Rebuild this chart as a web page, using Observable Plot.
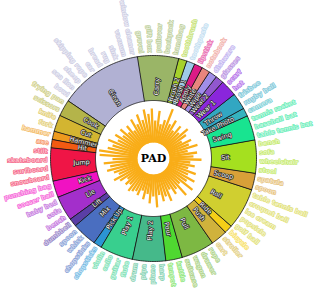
<!DOCTYPE html>
<html><head><meta charset="utf-8">
<script src="https://cdn.jsdelivr.net/npm/d3@7"></script>
<script src="https://cdn.jsdelivr.net/npm/@observablehq/plot@0.6"></script>
<style>body{margin:0;background:#fff}</style>
</head><body><div id="chart"></div>
<script>
// clockwise from the top
const verbs = ["Carry","Brush 2","Brush 1","Apply","Write","Wipe","Wear 2","Wear 1","Throw","Take Photo","Swing","Sit","Scoop","Roll","Ride","Push","Pull","Pour","Play 2","Play 1","Pick Up","Mix","Lift","Lie","Kick","Jump","Hit","Hammer","Cut","Cook","Clean"];
const verbCounts = [5,1,1,1,1,1,1,2,2,1,3,4,2,5,1,2,4,2,4,4,1,3,1,3,2,4,1,1,2,2,10];
const verbColors = ["#9ab567","#a6d12b","#9fcbe8","#dc1a86","#e8857d","#a08ee8","#9157cf","#8a26dc","#32a7c2","#35b3bf","#18e490","#a5e01f","#d8a038","#d0cf30","#f4cf17","#d0b23c","#7db843","#4fd831","#45b98a","#38cf8e","#2b95d4","#4a6ec0","#5a3ea6","#a32fcb","#f012c2","#ef1546","#f25a12","#ee9a1e","#d3b531","#b4b44a","#b1b1d3"];
const objects = ["gravel","gift box","pullover","backpack","handbag","toothbrush","toothpaste","lipstick","notebook","dishware","glasses","scarf","hat","frisbee","rugby ball","camera","tennis racket","baseball bat","table tennis bat","bench","sofa","wheelchair","stool","spatula","spoon","table tennis ball","croquet ball","ice cream","popsicle","golf ball","bicycle","stroller","cart","rope","drawer","wagon","suitcase","kettle","teapot","harp","piano","pipa","drum","flute","guitar","cello","violin","chopsticks","chopsticks","whisk","spoon","dumbbell","bench","sofa","baby bed","soccer ball","punching bag","snowboard","surfboard","skateboard","stilt","axe","hammer","fork","knife","scissors","frying pan","bowl","sea lion","sheep","skipping rope","car","bread","rug","sink","vacuum","window cleaner"];
const barValues = [29,34,22,32,19,24,37,22,28,18,26,20,29,24,17,26,22,30,19,28,24,32,21,26,20,29,22,31,24,34,20,33,22,26,19,30,24,28,21,33,22,29,20,26,18,24,21,23,25,19,22,17,24,29,22,26,32,28,34,25,38,39,31,27,33,24,29,22,28,20,26,18,29,22,31,24,34];

const startAngle = 351;
const total = d3.sum(verbCounts);
const step = 360 / total;
const rIn = 58, rOut = 103, rLabel = 106, rBar0 = 16, rVerb = 72;
const rad = a => a * Math.PI / 180;
const px = (r, a) => r * Math.sin(rad(a));
const py = (r, a) => -r * Math.cos(rad(a));
const norm = a => ((a % 360) + 360) % 360;
const barR = d3.scaleLinear([0, 40], [rBar0, rBar0 + 40]);

let k = 0;
const segs = verbs.map((v, i) => {
  const a0 = startAngle + k * step; k += verbCounts[i];
  const a1 = startAngle + k * step;
  return {verb: v, color: verbColors[i], a0, a1, mid: (a0 + a1) / 2};
});
const objSeg = segs.flatMap((s, i) => d3.range(verbCounts[i]).map(() => s));
const objs = objects.map((name, i) => ({name, value: barValues[i], seg: objSeg[i], a: startAngle + (i + 0.5) * step}));

const poly = segs.flatMap(s => {
  const n = Math.max(2, Math.ceil(s.a1 - s.a0));
  const angs = d3.range(n + 1).map(j => s.a0 + (s.a1 - s.a0) * j / n);
  const outer = angs.map(a => ({verb: s.verb, color: s.color, x: px(rOut, a), y: py(rOut, a)}));
  const inner = angs.slice().reverse().map(a => ({verb: s.verb, color: s.color, x: px(rIn, a), y: py(rIn, a)}));
  return outer.concat(inner);
});

const light = (c, t) => d3.interpolateRgb(c, "#ffffff")(t);
const right = objs.filter(d => norm(d.a) < 180);
const left = objs.filter(d => norm(d.a) >= 180);

const chart = Plot.plot({
  width: 315, height: 300, margin: 0,
  x: {domain: [-153, 162], range: [0, 315], axis: null},
  y: {domain: [-158, 142], range: [0, 300], axis: null},
  color: {type: "identity"},
  marks: [
    Plot.link(objs, {
      x1: d => px(rBar0, d.a), y1: d => py(rBar0, d.a),
      x2: d => px(barR(d.value), d.a), y2: d => py(barR(d.value), d.a),
      stroke: "#f9ad18", strokeWidth: 2.3
    }),
    Plot.dot([0], {x: () => 0, y: () => 0, r: 15, fill: "white", stroke: "none"}),
    Plot.text([0], {x: () => 0, y: () => 0, text: () => "PAD", fontFamily: "DejaVu Serif", fontWeight: "bold", fontSize: 11, fill: "black"}),
    Plot.line(poly, {x: "x", y: "y", z: "verb", fill: "color", stroke: "#111", strokeWidth: 0.8, curve: "linear-closed"}),
    Plot.text(segs, {
      x: d => px(rVerb, d.mid), y: d => py(rVerb, d.mid), text: "verb",
      rotate: d => norm(d.mid) < 180 ? norm(d.mid) - 90 : norm(d.mid) + 90,
      fontSize: 6.5, fontFamily: "DejaVu Sans", fill: "white", stroke: "#222", strokeWidth: 1.4
    }),
    Plot.text(right, {
      x: d => px(rLabel, d.a), y: d => py(rLabel, d.a), text: "name",
      rotate: d => norm(d.a) - 90, textAnchor: "start",
      fontSize: 6.3, fontFamily: "DejaVu Sans", fontWeight: "bold",
      fill: d => light(d.seg.color, 0.72), stroke: d => light(d.seg.color, 0.3), strokeWidth: 1.1
    }),
    Plot.text(left, {
      x: d => px(rLabel, d.a), y: d => py(rLabel, d.a), text: "name",
      rotate: d => norm(d.a) + 90, textAnchor: "end",
      fontSize: 6.3, fontFamily: "DejaVu Sans", fontWeight: "bold",
      fill: d => light(d.seg.color, 0.72), stroke: d => light(d.seg.color, 0.3), strokeWidth: 1.1
    })
  ]
});
document.getElementById("chart").appendChild(chart);
</script>
</body></html>
